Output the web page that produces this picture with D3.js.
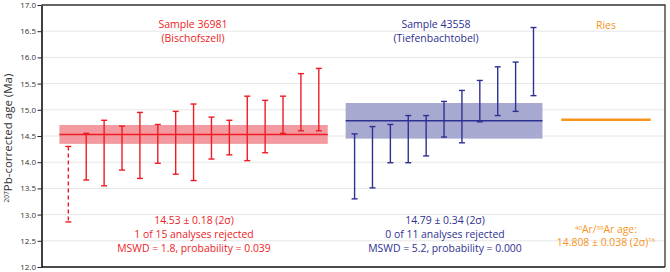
<!DOCTYPE html>
<html><head><meta charset="utf-8">
<script src="https://cdn.jsdelivr.net/npm/d3@7"></script>
<style>body{margin:0;background:#fff}svg{display:block}text{font-family:"Open Sans","Noto Sans",sans-serif}</style>
</head><body><svg id="c" width="670" height="272"></svg>
<script>
// Sample 36981 (Bischofszell): [low, high] 2σ error bars; first one rejected
const redLow  = [12.86,13.66,13.55,13.85,13.69,13.98,13.77,13.65,14.06,14.14,14.03,14.18,14.55,14.60,14.60];
const redHigh = [14.30,14.55,14.80,14.69,14.95,14.72,14.97,15.11,14.86,14.80,15.26,15.18,15.26,15.69,15.79];
const redRejected = [true,false,false,false,false,false,false,false,false,false,false,false,false,false,false];
const redMean = 14.53, redErr = 0.18;
// Sample 43558 (Tiefenbachtobel)
const blueLow  = [13.30,13.51,13.99,13.99,14.12,14.48,14.37,14.77,14.89,14.97,15.27];
const blueHigh = [14.54,14.68,14.72,14.89,14.89,15.16,15.37,15.56,15.82,15.91,16.57];
const blueMean = 14.79, blueErr = 0.34;
// Ries 40Ar/39Ar
const riesAge = 14.808, riesErr = 0.038;
const yTicks = [12.0,12.5,13.0,13.5,14.0,14.5,15.0,15.5,16.0,16.5,17.0];

const RED="#ed1c24", RED_F="#f29aa0", BLUE="#2e3192", BLUE_F="#a7a9d1", ORANGE="#f7941d";
const svg = d3.select("#c");
const L=41.5, R=665, T=5, B=267;
const y = d3.scaleLinear().domain([12,17]).range([B,T]);
const x = d3.scaleLinear().domain([-1.5,33.35]).range([L,R]);

// grid
svg.append("g").selectAll("line").data(yTicks.slice(1,-1)).join("line")
  .attr("x1",L).attr("x2",R).attr("y1",d=>y(d)).attr("y2",d=>y(d))
  .attr("stroke","#e6e6e6").attr("stroke-width",1);

// bands
function band(x0,x1,mean,err,fill,stroke){
  svg.append("rect").attr("x",x(x0)).attr("width",x(x1)-x(x0))
    .attr("y",y(mean+err)).attr("height",y(mean-err)-y(mean+err)).attr("fill",fill);
  return ()=>svg.append("line").attr("x1",x(x0)).attr("x2",x(x1)).attr("y1",y(mean)).attr("y2",y(mean))
    .attr("stroke",stroke).attr("stroke-width",1.6);
}
const redLine = band(-0.5,14.5,redMean,redErr,RED_F,RED);
const blueLine = band(15.5,26.5,blueMean,blueErr,BLUE_F,BLUE);
redLine(); blueLine();

function bars(low,high,offset,color,rej){
  const g = svg.append("g").attr("stroke",color).attr("stroke-width",1.4).attr("fill","none");
  low.forEach((lo,i)=>{
    const xc = x(offset+i), hi = high[i];
    const dashed = rej && rej[i];
    g.append("line").attr("x1",xc).attr("x2",xc).attr("y1",y(hi)).attr("y2",y(lo))
      .attr("stroke-dasharray",dashed?"4,3":null);
    [lo,hi].forEach(v=>g.append("line").attr("x1",xc-3).attr("x2",xc+3).attr("y1",y(v)).attr("y2",y(v)));
  });
}
bars(redLow,redHigh,0,RED,redRejected);
bars(blueLow,blueHigh,16,BLUE,null);

// Ries
svg.append("line").attr("x1",x(27.55)).attr("x2",x(32.55)).attr("y1",y(riesAge)).attr("y2",y(riesAge))
  .attr("stroke",ORANGE).attr("stroke-width",2.5);

// frame
svg.append("path").attr("d",`M${L},${T}H${R}V${B}`).attr("fill","none").attr("stroke","#333").attr("stroke-width",1.3);
svg.append("line").attr("x1",L).attr("x2",R).attr("y1",B).attr("y2",B).attr("stroke","#111").attr("stroke-width",1.6);
const ax = svg.append("g").attr("transform",`translate(${L},0)`)
  .call(d3.axisLeft(y).tickValues(yTicks).tickFormat(d3.format(".1f")).tickSize(4).tickSizeOuter(0));
ax.select(".domain").attr("stroke","#111").attr("stroke-width",1.6);
ax.selectAll(".tick line").attr("stroke","#222");
ax.selectAll(".tick text").attr("font-size",8).attr("fill","#333").attr("x",-5.5).attr("font-family","'Open Sans',sans-serif");

// y label
const yl = svg.append("text").attr("transform",`translate(12,138) rotate(-90)`)
  .attr("text-anchor","middle").attr("font-size",11.5).attr("fill","#333");
yl.append("tspan").attr("font-size",6.5).attr("dy",-3.5).text("207");
yl.append("tspan").attr("dy",3.5).text("Pb-corrected age (Ma)");

function txt(cx,cy,s,color,size){
  return svg.append("text").attr("x",cx).attr("y",cy).attr("text-anchor","middle")
    .attr("font-size",size||10.4).attr("fill",color).text(s);
}
txt(193,28,"Sample 36981",RED,10.5);
txt(193,42,"(Bischofszell)",RED,10.5);
txt(194,224,"14.53 ± 0.18 (2σ)",RED);
txt(194,238,"1 of 15 analyses rejected",RED);
txt(194,252,"MSWD = 1.8, probability = 0.039",RED);

txt(436,28,"Sample 43558",BLUE,10.5);
txt(436,42,"(Tiefenbachtobel)",BLUE,10.5);
txt(445,224,"14.79 ± 0.34 (2σ)",BLUE);
txt(445,238,"0 of 11 analyses rejected",BLUE);
txt(445,252,"MSWD = 5.2, probability = 0.000",BLUE);

txt(606,29,"Ries",ORANGE,10.5);
const a1 = svg.append("text").attr("x",606).attr("y",233).attr("text-anchor","middle").attr("font-size",10.4).attr("fill",ORANGE);
a1.append("tspan").attr("font-size",6).attr("dy",-3).text("40");
a1.append("tspan").attr("dy",3).text("Ar/");
a1.append("tspan").attr("font-size",6).attr("dy",-3).text("39");
a1.append("tspan").attr("dy",3).text("Ar age:");
const a2 = svg.append("text").attr("x",606).attr("y",246).attr("text-anchor","middle").attr("font-size",10.4).attr("fill",ORANGE);
a2.append("tspan").text("14.808 ± 0.038 (2σ)");
a2.append("tspan").attr("font-size",6).attr("dy",-4).text("16");
</script></body></html>
